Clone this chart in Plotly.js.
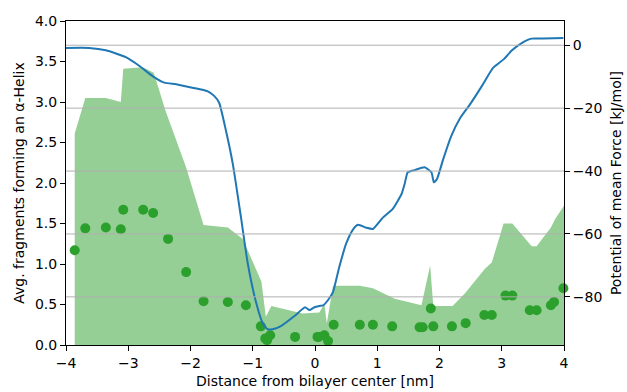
<!DOCTYPE html>
<html>
<head>
<meta charset="utf-8">
<script src="https://cdn.plot.ly/plotly-3.0.1.min.js"></script>
<style>html,body{margin:0;padding:0;background:#fff;}#chart{width:627px;height:392px;}</style>
</head>
<body>
<div id="chart"></div>
<script>
// Helix fragments band (upper boundary of shaded region)
const bandX = [-3.86, -3.69, -3.36, -3.12, -3.08, -2.77, -2.59, -2.40, -2.07, -1.79, -1.40, -1.16, -0.86, -0.79, -0.70, -0.20, 0.07, 0.15, 0.19, 0.29, 0.72, 0.93, 1.28, 1.71, 1.85, 1.90, 2.21, 2.41, 2.73, 2.84, 3.03, 3.17, 3.48, 3.56, 3.79, 3.86, 4.00];
const bandY = [2.61, 3.05, 3.05, 3.00, 3.41, 3.43, 3.36, 2.89, 2.19, 1.48, 1.45, 1.31, 0.78, 0.35, 0.48, 0.39, 0.40, 0.51, 0.27, 0.73, 0.73, 0.70, 0.57, 0.49, 0.98, 0.48, 0.48, 0.64, 0.94, 1.02, 1.50, 1.50, 1.22, 1.22, 1.45, 1.56, 1.72];

// Average helix fragments (dots)
const dotX = [-3.86, -3.69, -3.36, -3.12, -3.08, -2.76, -2.60, -2.36, -2.07, -1.79, -1.40, -1.11, -0.87, -0.80, -0.77, -0.72, -0.32, 0.04, 0.06, 0.15, 0.21, 0.30, 0.72, 0.93, 1.24, 1.68, 1.73, 1.86, 1.90, 2.20, 2.42, 2.72, 2.84, 3.06, 3.17, 3.45, 3.56, 3.79, 3.84, 3.99];
const dotY = [1.17, 1.44, 1.45, 1.43, 1.67, 1.67, 1.63, 1.31, 0.90, 0.54, 0.53, 0.49, 0.23, 0.08, 0.06, 0.12, 0.10, 0.10, 0.10, 0.12, 0.05, 0.25, 0.25, 0.25, 0.23, 0.22, 0.22, 0.45, 0.23, 0.23, 0.27, 0.37, 0.37, 0.61, 0.61, 0.43, 0.43, 0.49, 0.53, 0.70];

// Potential of mean force
const pmfX = [-4.00, -3.63, -3.36, -3.04, -2.82, -2.61, -2.42, -2.23, -1.97, -1.73, -1.62, -1.54, -1.43, -1.32, -1.19, -1.08, -0.95, -0.84, -0.76, -0.68, -0.54, -0.33, -0.16, -0.09, -0.01, 0.07, 0.13, 0.21, 0.29, 0.39, 0.50, 0.61, 0.69, 0.82, 0.93, 1.09, 1.25, 1.39, 1.44, 1.49, 1.60, 1.76, 1.87, 1.91, 1.96, 2.06, 2.19, 2.33, 2.49, 2.68, 2.86, 3.03, 3.16, 3.32, 3.48, 3.67, 3.99];
const pmfY = [-0.85, -0.85, -1.6, -3.8, -6.6, -9.8, -11.9, -12.4, -13.5, -14.6, -16.1, -18.3, -27.2, -37.8, -54.6, -69.4, -81.5, -88.4, -90.3, -90.3, -89.2, -86.1, -83.3, -84.2, -83.3, -82.9, -82.7, -81.0, -78.4, -70.5, -63.1, -58.6, -57.1, -58.0, -58.4, -54.8, -52.0, -47.3, -44.1, -40.4, -39.7, -38.8, -40.4, -43.6, -42.5, -36.2, -28.8, -23.2, -18.8, -13.0, -7.2, -4.5, -1.7, 0.7, 2.1, 2.1, 2.3];

const xTicks = [-4, -3, -2, -1, 0, 1, 2, 3, 4];
const leftTicks = [0, 0.5, 1, 1.5, 2, 2.5, 3, 3.5, 4];
const rightTicks = [0, -20, -40, -60, -80];

const font = {family: 'DejaVu Sans, sans-serif', size: 14, color: '#000'};

const traces = [
  {x: bandX, y: bandY, type: 'scatter', mode: 'lines', fill: 'tozeroy',
   fillcolor: 'rgba(44,160,44,0.5)', line: {width: 0, color: 'rgba(44,160,44,0)'},
   yaxis: 'y', hoverinfo: 'skip', showlegend: false},
  {x: dotX, y: dotY, type: 'scatter', mode: 'markers',
   marker: {color: '#2ca02c', size: 10, line: {width: 0}},
   yaxis: 'y', showlegend: false, cliponaxis: false},
  {x: pmfX, y: pmfY, type: 'scatter', mode: 'lines',
   line: {color: '#1f77b4', width: 2, shape: 'spline', smoothing: 0.5},
   yaxis: 'y2', showlegend: false}
];

const shapes = rightTicks.map(t => ({
  type: 'line', xref: 'paper', x0: 0, x1: 1, yref: 'y2', y0: t, y1: t,
  line: {color: 'rgba(176,176,176,1)', width: 1}, layer: 'above'
}));

const layout = {
  width: 627, height: 392,
  margin: {l: 66, r: 63, t: 21, b: 47, pad: 0},
  paper_bgcolor: '#fff', plot_bgcolor: '#fff',
  font: font,
  showlegend: false,
  hovermode: false,
  xaxis: {
    range: [-4, 4], tickvals: xTicks, ticktext: xTicks.map(v => v < 0 ? '\u2212' + Math.abs(v) : String(v)),
    showgrid: false, zeroline: false,
    showline: true, linecolor: '#000', linewidth: 1, mirror: true,
    ticks: 'outside', ticklen: 5, tickwidth: 1, tickcolor: '#000',
    tickfont: font,
    title: {text: 'Distance from bilayer center [nm]', font: font, standoff: 6}
  },
  yaxis: {
    range: [0, 4], tickvals: leftTicks, ticktext: leftTicks.map(v => v.toFixed(1)),
    showgrid: false, zeroline: false,
    showline: true, linecolor: '#000', linewidth: 1,
    ticks: 'outside', ticklen: 5, tickwidth: 1, tickcolor: '#000',
    tickfont: font,
    title: {text: 'Avg. fragments forming an \u03b1-Helix', font: font, standoff: 7}
  },
  yaxis2: {
    overlaying: 'y', side: 'right',
    range: [-95.3, 7.7], tickvals: rightTicks, ticktext: rightTicks.map(v => v < 0 ? '\u2212' + Math.abs(v) : String(v)),
    showgrid: false, zeroline: false,
    showline: true, linecolor: '#000', linewidth: 1,
    ticks: 'outside', ticklen: 5, tickwidth: 1, tickcolor: '#000',
    tickfont: font,
    title: {text: 'Potential of mean Force [kJ/mol]', font: font, standoff: 9}
  },
  shapes: shapes
};

Plotly.newPlot('chart', traces, layout, {displayModeBar: false, staticPlot: true});
</script>
</body>
</html>
